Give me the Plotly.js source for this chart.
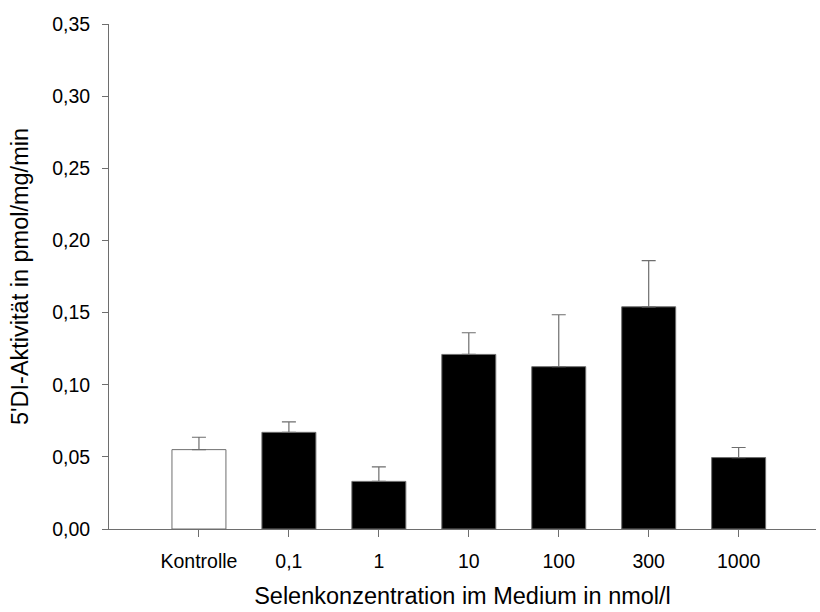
<!DOCTYPE html>
<html>
<head>
<meta charset="utf-8">
<script src="https://cdn.plot.ly/plotly-3.0.1.min.js"></script>
<style>html,body{margin:0;padding:0;background:#fff;}#chart{width:820px;height:612px;}</style>
</head>
<body>
<div id="chart"></div>
<script>
const categories = ["Kontrolle", "0,1", "1", "10", "100", "300", "1000"];
const values = [0.055, 0.067, 0.033, 0.121, 0.1125, 0.154, 0.0495];
const errors = [0.0086, 0.0072, 0.010, 0.015, 0.036, 0.032, 0.007];
const fillColors = ["#ffffff", "#000000", "#000000", "#000000", "#000000", "#000000", "#000000"];
const yTicks = [0, 0.05, 0.10, 0.15, 0.20, 0.25, 0.30, 0.35];

const idx = categories.map((c, i) => i);
const trace = {
  type: "bar",
  x: idx,
  y: values,
  width: 0.6,
  marker: { color: fillColors, line: { color: "#6e6e6e", width: 1 } },
  error_y: {
    type: "data",
    symmetric: false,
    array: errors,
    arrayminus: errors.map(() => 0),
    color: "#6e6e6e",
    thickness: 1.2,
    width: 7
  },
  hoverinfo: "none"
};

const font = "Liberation Sans, Arial, sans-serif";
const layout = {
  width: 820,
  height: 612,
  margin: { l: 109, r: 4, t: 24, b: 83 },
  paper_bgcolor: "#ffffff",
  plot_bgcolor: "#ffffff",
  separators: ",.",
  showlegend: false,
  font: { family: font, color: "#000000", size: 19.5 },
  xaxis: {
    range: [-1.0, 6.86],
    tickmode: "array",
    tickvals: idx,
    ticktext: categories,
    ticks: "outside",
    ticklen: 7,
    tickcolor: "#6e6e6e",
    tickwidth: 1,
    showline: true,
    linecolor: "#6e6e6e",
    linewidth: 1,
    showgrid: false,
    zeroline: false,
    tickfont: { family: font, size: 19.5, color: "#000" },
    ticklabelstandoff: 8,
    title: { text: "Selenkonzentration im Medium in nmol/l", font: { family: font, size: 23.5, color: "#000" }, standoff: 16 }
  },
  yaxis: {
    range: [0, 0.35],
    tickmode: "array",
    tickvals: yTicks,
    tickformat: ".2f",
    ticks: "outside",
    ticklen: 6,
    tickcolor: "#6e6e6e",
    tickwidth: 1,
    showline: true,
    linecolor: "#6e6e6e",
    linewidth: 1,
    showgrid: false,
    zeroline: false,
    tickfont: { family: font, size: 19.5, color: "#000" },
    ticklabelstandoff: 8,
    title: { text: "5'DI-Aktivität in pmol/mg/min", font: { family: font, size: 23.5, color: "#000" }, standoff: 16 }
  }
};

Plotly.newPlot("chart", [trace], layout, { staticPlot: true, displayModeBar: false });
</script>
</body>
</html>
